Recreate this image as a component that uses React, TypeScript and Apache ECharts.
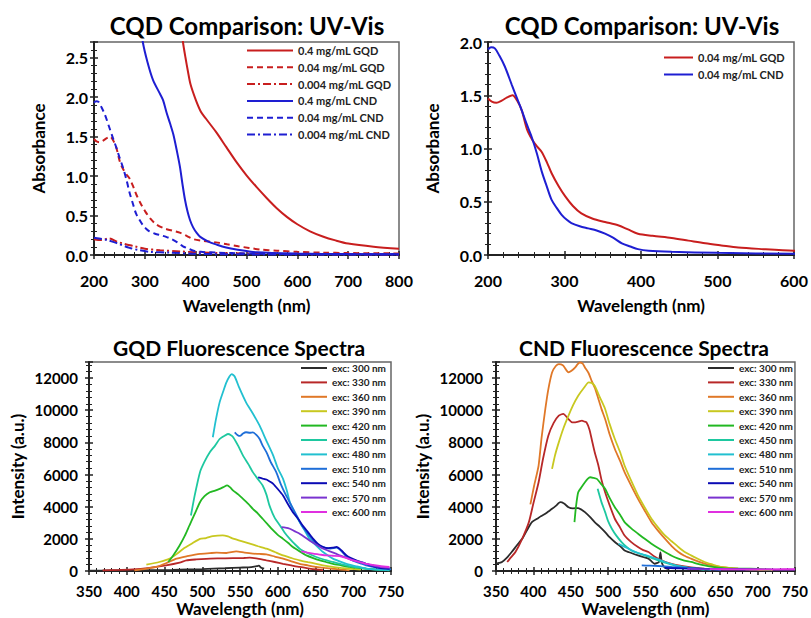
import React, { useEffect, useRef } from "react";
import * as echarts from "echarts";

// ---------- UV-Vis data (wavelength nm, absorbance) ----------
const gqd_04: number[][] = [[370,3.0],[375,2.7],[380,2.5],[385,2.32],[390,2.16],[400,1.97],[410,1.82],[420,1.73],[440,1.56],[460,1.37],[480,1.18],[500,1.01],[520,0.86],[540,0.72],[560,0.59],[580,0.48],[600,0.39],[625,0.30],[650,0.235],[675,0.185],[700,0.145],[750,0.105],[800,0.08]];
const gqd_004: number[][] = [[200,1.47],[205,1.44],[211,1.43],[218,1.45],[225,1.48],[232,1.50],[238,1.45],[244,1.36],[251,1.18],[258,1.08],[264,1.02],[270,0.97],[277,0.87],[283,0.77],[292,0.65],[301,0.55],[311,0.46],[322,0.39],[337,0.34],[353,0.31],[370,0.28],[383,0.24],[396,0.20],[415,0.18],[440,0.16],[462,0.135],[484,0.11],[505,0.09],[527,0.07],[560,0.055],[600,0.04],[650,0.03],[700,0.025],[800,0.02]];
const gqd_0004: number[][] = [[200,0.20],[208,0.19],[215,0.19],[230,0.21],[245,0.17],[260,0.14],[280,0.11],[300,0.08],[330,0.06],[370,0.045],[400,0.035],[450,0.025],[500,0.02],[600,0.012],[800,0.006]];
const cnd_04: number[][] = [[290,3.0],[296,2.7],[305,2.45],[316,2.22],[330,2.04],[336,1.96],[343,1.80],[350,1.66],[356,1.53],[363,1.32],[369,1.12],[374,0.9],[379,0.70],[384,0.55],[389,0.44],[395,0.35],[402,0.28],[409,0.23],[425,0.17],[442,0.13],[460,0.095],[480,0.07],[520,0.035],[600,0.018],[700,0.012],[800,0.01]];
const cnd_004: number[][] = [[200,1.93],[204,1.95],[209,1.94],[215,1.87],[222,1.77],[231,1.60],[238,1.47],[244,1.36],[250,1.24],[257,1.11],[264,0.95],[270,0.79],[277,0.64],[283,0.52],[290,0.44],[296,0.38],[303,0.33],[309,0.30],[320,0.27],[331,0.25],[342,0.23],[353,0.20],[364,0.16],[375,0.11],[386,0.08],[396,0.055],[410,0.04],[440,0.03],[500,0.02],[600,0.012],[800,0.008]];
const cnd_0004: number[][] = [[200,0.22],[210,0.21],[225,0.19],[245,0.15],[270,0.09],[290,0.06],[310,0.04],[350,0.03],[400,0.015],[500,0.008],[800,0.005]];

// ---------- GQD fluorescence (emission nm, intensity) ----------
const g300: number[][] = [[350,20],[380,30],[420,50],[460,70],[500,120],[530,170],[550,210],[565,240],[572,300],[575,330],[578,200],[582,150]];
const g330: number[][] = [[368,40],[390,70],[408,100],[430,200],[452,350],[470,520],[479,660],[492,720],[505,760],[520,780],[541,800],[555,810],[563,830],[575,760],[585,660],[596,560],[607,450],[618,350],[629,250],[640,170],[651,100],[660,60]];
const g360: number[][] = [[410,40],[425,130],[439,250],[452,480],[466,770],[480,920],[497,1070],[510,1110],[519,1140],[532,1120],[545,1220],[556,1140],[567,1080],[576,1060],[585,1030],[596,900],[607,770],[618,600],[629,450],[640,350],[651,250],[662,190],[673,140],[684,90],[695,40]];
const g390: number[][] = [[426,390],[443,560],[457,770],[466,1050],[475,1390],[486,1700],[497,2000],[505,2050],[514,2170],[527,2220],[534,2150],[541,2010],[552,1860],[563,1700],[574,1540],[585,1390],[596,1180],[607,970],[618,810],[629,660],[640,550],[651,450],[662,340],[673,250],[684,190],[695,140],[710,90]];
const g420: number[][] = [[455,560],[462,1000],[470,1590],[477,2200],[483,2830],[490,3550],[497,4280],[503,4650],[510,4900],[517,5000],[523,5110],[528,5220],[533,5320],[537,5200],[541,5000],[548,4750],[554,4490],[561,4180],[567,3870],[574,3560],[580,3250],[587,2880],[594,2520],[600,2250],[607,2000],[614,1740],[620,1490],[629,1220],[638,970],[647,800],[656,660],[664,560],[673,450],[684,350],[695,250],[706,190],[717,140],[732,90],[748,40]];
const g450: number[][] = [[485,3450],[490,4700],[497,6150],[503,6800],[510,7390],[517,7800],[523,8210],[529,8400],[534,8520],[538,8450],[541,8320],[548,7750],[554,7180],[561,6650],[567,6150],[574,5700],[580,5320],[585,4750],[589,4080],[596,3300],[603,2830],[609,2400],[616,2000],[622,1700],[629,1390],[640,1100],[651,870],[662,700],[673,560],[684,430],[695,310],[706,220],[717,150],[732,90],[748,40]];
const g480: number[][] = [[514,8320],[518,9400],[523,10490],[528,11200],[532,11730],[536,12100],[539,12250],[543,12100],[549,11400],[558,10490],[567,9800],[576,9040],[585,8100],[594,7180],[600,6400],[607,5730],[612,5000],[616,4280],[622,3650],[629,3040],[636,2500],[642,2000],[651,1580],[660,1180],[667,950],[673,770],[682,600],[691,450],[704,290],[717,150],[732,90],[748,50]];
const g510: number[][] = [[543,8630],[547,8450],[550,8400],[554,8550],[558,8630],[563,8600],[567,8620],[572,8450],[576,8210],[580,7800],[585,7390],[591,6750],[598,6150],[604,5400],[611,4700],[618,4080],[625,3460],[631,2900],[638,2420],[645,2000],[651,1700],[657,1550],[664,1420],[670,1400],[678,1450],[684,1250],[691,900],[697,700],[704,560],[711,450],[717,350],[728,240],[739,150],[750,100]];
const g540: number[][] = [[574,5830],[580,5750],[585,5690],[590,5550],[594,5420],[600,5100],[607,4700],[613,4200],[620,3660],[627,3250],[633,2830],[640,2420],[647,2000],[653,1700],[660,1490],[667,1420],[673,1450],[678,1500],[684,1300],[691,970],[697,800],[704,660],[711,550],[717,450],[726,300],[735,190],[748,140]];
const g570: number[][] = [[605,2730],[610,2700],[616,2630],[622,2480],[629,2320],[636,2100],[642,1900],[649,1700],[656,1490],[662,1350],[669,1220],[676,1100],[682,970],[691,820],[700,660],[708,560],[717,450],[726,340],[735,250],[748,190]];
const g600: number[][] = [[631,1220],[639,1150],[647,1080],[656,1020],[664,970],[673,950],[682,930],[691,800],[700,660],[708,560],[717,450],[726,380],[735,310],[748,250]];

// ---------- CND fluorescence ----------
const c300: number[][] = [[350,450],[354,500],[358,560],[364,800],[371,1180],[378,1600],[385,2000],[391,2500],[398,3040],[405,3250],[410,3400],[416,3560],[420,3700],[425,3870],[430,4050],[436,4280],[441,4200],[447,3970],[453,3900],[460,3910],[465,3800],[469,3660],[476,3350],[482,3040],[489,2750],[496,2420],[502,2100],[509,1800],[516,1550],[522,1280],[531,1120],[540,970],[547,870],[554,770],[558,600],[562,450],[566,500],[568,560],[570,1150],[572,500],[576,200],[582,100]];
const c330: number[][] = [[365,560],[370,850],[376,1180],[385,2000],[394,3040],[400,4200],[407,5520],[413,7000],[420,8420],[427,9200],[434,9660],[440,9770],[447,9450],[452,9250],[456,9250],[461,9300],[465,9350],[468,9300],[471,9250],[475,8800],[478,8210],[482,7400],[487,6560],[491,5700],[496,4900],[502,4100],[509,3250],[516,2700],[522,2210],[531,1800],[540,1490],[547,1300],[554,1180],[562,900],[571,660],[578,540],[585,450],[596,340],[607,250],[618,190],[629,140],[640,100]];
const c360: number[][] = [[396,4140],[401,5300],[407,6560],[411,8300],[416,10080],[420,11300],[425,12350],[430,12750],[434,12870],[437,12850],[440,12770],[444,12500],[447,12350],[451,12450],[456,12660],[459,12850],[462,12970],[466,12900],[469,12660],[474,12300],[478,11830],[483,11300],[487,10700],[491,10100],[496,9450],[502,8500],[509,7590],[516,6850],[522,6150],[531,5300],[540,4490],[549,3750],[558,3040],[567,2500],[576,2010],[585,1550],[594,1180],[602,950],[611,770],[620,600],[629,460],[640,340],[651,250],[662,190],[674,140],[685,110],[696,80],[720,50]];
const c390: number[][] = [[425,6350],[429,7200],[434,8000],[440,8850],[447,9660],[453,10300],[460,10900],[467,11350],[474,11730],[478,11700],[482,11520],[489,10800],[496,10080],[502,9150],[509,8210],[516,7400],[522,6560],[531,5600],[540,4700],[549,3950],[558,3250],[567,2700],[576,2210],[585,1850],[594,1490],[602,1200],[611,970],[620,760],[629,560],[640,400],[651,250],[662,190],[674,140],[685,110],[696,80],[720,50]];
const c420: number[][] = [[455,3040],[457,4000],[460,4900],[465,5250],[469,5520],[473,5750],[476,5830],[480,5800],[485,5730],[490,5450],[496,5110],[502,4550],[509,3970],[516,3500],[522,3040],[531,2650],[540,2320],[549,2000],[558,1700],[567,1430],[576,1180],[585,950],[594,770],[602,650],[611,560],[620,450],[629,350],[640,250],[651,190],[662,150],[674,140],[690,140],[700,130],[718,80]];
const c450: number[][] = [[486,5110],[491,4300],[496,3660],[500,3100],[505,2630],[511,2200],[518,1800],[524,1530],[531,1280],[540,1120],[549,970],[558,820],[567,660],[576,520],[585,390],[596,280],[607,190],[618,130],[629,80]];
const c480: number[][] = [[514,1700],[520,1550],[527,1390],[533,1250],[540,1120],[549,1000],[558,870],[567,720],[576,560],[585,430],[594,310],[605,220],[616,150],[627,110],[638,80]];
const c510: number[][] = [[545,350],[556,330],[567,310],[576,280],[585,250],[596,220],[607,190],[618,160],[629,120],[640,100],[651,70]];
const c540: number[][] = [[576,190],[590,170],[605,150],[620,140],[640,130],[660,120],[680,110],[700,100]];
const c570: number[][] = [[606,130],[625,120],[645,110],[665,110],[685,100],[705,100],[725,90],[750,90]];
const c600: number[][] = [[636,120],[655,110],[675,100],[695,100],[715,100],[735,110],[750,110]];

// ---------- labels ----------
const titles = ["CQD Comparison: UV-Vis", "CQD Comparison: UV-Vis", "GQD Fluorescence Spectra", "CND Fluorescence Spectra"];
const uvNames = ["0.4 mg/mL GQD", "0.04 mg/mL GQD", "0.004 mg/mL GQD", "0.4 mg/mL CND", "0.04 mg/mL CND", "0.004 mg/mL CND"];
const excNames = ["exc: 300 nm", "exc: 330 nm", "exc: 360 nm", "exc: 390 nm", "exc: 420 nm", "exc: 450 nm", "exc: 480 nm", "exc: 510 nm", "exc: 540 nm", "exc: 570 nm", "exc: 600 nm"];
const excColors = ["#2b2b2b", "#b82828", "#e07828", "#c8c820", "#22b822", "#1ec8a0", "#22c0d0", "#1e6ed8", "#0a0ab4", "#7a33d0", "#e030e0"];
const gqdSpectra = [g300, g330, g360, g390, g420, g450, g480, g510, g540, g570, g600];
const cndSpectra = [c300, c330, c360, c390, c420, c450, c480, c510, c540, c570, c600];

const RED = "#c81e1e";
const BLUE = "#1e1ed2";
const FONT = "Lato, 'Open Sans', sans-serif";

const grids = [
  { left: 94, top: 42, width: 305, height: 213 },
  { left: 488, top: 42, width: 306, height: 213 },
  { left: 89, top: 362, width: 302, height: 209 },
  { left: 496, top: 362, width: 300, height: 209 },
];

function buildOption() {
  const axisCfg = [
    { x: [200, 800, 100], y: [0, 2.7, 0.5], xm: 17, ym: 6, xg: 42, yg: 47, yname: "Absorbance", fs: 16 },
    { x: [200, 600, 100], y: [0, 2.0, 0.5], xm: 17, ym: 6, xg: 42, yg: 47, yname: "Absorbance", fs: 16 },
    { x: [350, 750, 50], y: [0, 13000, 2000], xm: 12, ym: 11, xg: 29, yg: 63, yname: "Intensity (a.u.)", fs: 15 },
    { x: [350, 750, 50], y: [0, 13000, 2000], xm: 12, ym: 13, xg: 29, yg: 65, yname: "Intensity (a.u.)", fs: 15 },
  ];
  const xAxis: any[] = [];
  const yAxis: any[] = [];
  axisCfg.forEach((c, i) => {
    const yFmt = (v: number) => (i < 2 ? v.toFixed(1) : String(v));
    const nameStyle = { fontFamily: FONT, fontWeight: "bold", fontSize: 17, color: "#000" };
    xAxis.push({
      type: "value", gridIndex: i, position: "bottom", min: c.x[0], max: c.x[1], interval: c.x[2],
      axisLine: { show: true, onZero: false, lineStyle: { color: "#222", width: 2 } },
      axisTick: { show: true, inside: false, length: 4, lineStyle: { color: "#222", width: 1.5 } },
      minorTick: { show: true, splitNumber: 5, length: 3, lineStyle: { color: "#222", width: 1 } },
      axisLabel: { margin: c.xm, fontFamily: FONT, fontWeight: "bold", fontSize: c.fs, color: "#000" },
      splitLine: { show: false },
      name: "Wavelength (nm)", nameLocation: "middle", nameGap: c.xg, nameTextStyle: nameStyle,
    });
    xAxis.push({
      type: "value", gridIndex: i, position: "bottom", min: c.x[0], max: c.x[1], interval: c.x[2],
      axisLine: { show: false, onZero: false },
      axisTick: { show: true, inside: true, length: 4, lineStyle: { color: "#222", width: 1.5 } },
      minorTick: { show: true, splitNumber: 5, length: 3, lineStyle: { color: "#222", width: 1 } },
      axisLabel: { show: false }, splitLine: { show: false },
    });
    yAxis.push({
      type: "value", gridIndex: i, position: "left", min: c.y[0], max: c.y[1], interval: c.y[2],
      axisLine: { show: true, onZero: false, lineStyle: { color: "#222", width: 2 } },
      axisTick: { show: true, inside: false, length: 4, lineStyle: { color: "#222", width: 1.5 } },
      minorTick: { show: true, splitNumber: 5, length: 3, lineStyle: { color: "#222", width: 1 } },
      axisLabel: { margin: c.ym, fontFamily: FONT, fontWeight: "bold", fontSize: c.fs, color: "#000", showMaxLabel: i === 1, formatter: yFmt },
      splitLine: { show: false },
      name: c.yname, nameLocation: "middle", nameGap: c.yg, nameTextStyle: nameStyle,
    });
    yAxis.push({
      type: "value", gridIndex: i, position: "left", min: c.y[0], max: c.y[1], interval: c.y[2],
      axisLine: { show: false, onZero: false },
      axisTick: { show: true, inside: true, length: 4, lineStyle: { color: "#222", width: 1.5 } },
      minorTick: { show: true, splitNumber: 5, length: 3, lineStyle: { color: "#222", width: 1 } },
      axisLabel: { show: false }, splitLine: { show: false },
    });
  });

  const series: any[] = [];
  const line = (id: string, name: string, data: number[][], color: string, g: number, type: any, width = 2, smooth: number = 0.3) => {
    series.push({
      type: "line", name: id + "|" + name, data, xAxisIndex: 2 * g, yAxisIndex: 2 * g,
      symbol: "none", smooth, clip: true,
      lineStyle: { color, width, type }, itemStyle: { color },
    });
  };
  const dashed = [6, 4];
  const dashDot = [8, 3, 2, 3];
  // UV-Vis panel 1
  line("a", uvNames[0], gqd_04, RED, 0, "solid");
  line("a", uvNames[1], gqd_004, RED, 0, dashed);
  line("a", uvNames[2], gqd_0004, RED, 0, dashDot);
  line("a", uvNames[3], cnd_04, BLUE, 0, "solid");
  line("a", uvNames[4], cnd_004, BLUE, 0, dashed);
  line("a", uvNames[5], cnd_0004, BLUE, 0, dashDot);
  // UV-Vis panel 2
  line("b", uvNames[1], gqd_004, RED, 1, "solid");
  line("b", uvNames[4], cnd_004, BLUE, 1, "solid");
  // fluorescence
  excNames.forEach((n, k) => line("c", n, gqdSpectra[k], excColors[k], 2, "solid", 1.8, 0.2));
  excNames.forEach((n, k) => line("d", n, cndSpectra[k], excColors[k], 3, "solid", 1.8, 0.2));

  const legText = (fs: number) => ({ fontFamily: FONT, fontWeight: "bold", fontSize: fs, color: "#222" });
  const fmt = (name: string) => name.split("|")[1];
  const hideSym = { opacity: 0, borderWidth: 0 };
  const legend = [
    { left: 246, top: 45, orient: "vertical", itemWidth: 46, itemHeight: 10, itemGap: 5.8, padding: 0,
      data: uvNames.map((n) => "a|" + n), formatter: fmt, textStyle: legText(11), selectedMode: false, itemStyle: hideSym },
    { left: 663, top: 52, orient: "vertical", itemWidth: 29, itemHeight: 10, itemGap: 6, padding: 0,
      data: [uvNames[1], uvNames[4]].map((n) => "b|" + n), formatter: fmt, textStyle: legText(11), selectedMode: false, itemStyle: hideSym },
    { left: 300, top: 363, orient: "vertical", itemWidth: 26, itemHeight: 10, itemGap: 4.4, padding: 0,
      data: excNames.map((n) => "c|" + n), formatter: fmt, textStyle: legText(10), selectedMode: false, itemStyle: hideSym },
    { left: 707, top: 363, orient: "vertical", itemWidth: 26, itemHeight: 10, itemGap: 4.4, padding: 0,
      data: excNames.map((n) => "d|" + n), formatter: fmt, textStyle: legText(10), selectedMode: false, itemStyle: hideSym },
  ];

  const titlePos = [[247, 25, 24], [642, 25, 24], [239, 347, 21], [644, 347, 21]];
  const graphic = titles.map((t, i) => ({
    type: "text", x: titlePos[i][0], y: titlePos[i][1],
    style: { text: t, fontFamily: FONT, fontWeight: "bold", fontSize: titlePos[i][2], fill: "#000", align: "center", verticalAlign: "middle" },
  }));

  return {
    animation: false,
    backgroundColor: "#fff",
    grid: grids.map((g) => ({ ...g, show: true, borderColor: "#666", borderWidth: 1.5, backgroundColor: "transparent" })),
    xAxis, yAxis, series, legend, graphic,
  };
}

export default function App() {
  const ref = useRef<HTMLDivElement>(null);
  useEffect(() => {
    if (!ref.current) return;
    const chart = echarts.init(ref.current, undefined, { renderer: "svg" });
    chart.setOption(buildOption() as any);
    return () => chart.dispose();
  }, []);
  return <div ref={ref} style={{ position: "fixed", left: 0, top: 0, width: 811, height: 618, background: "#fff" }} />;
}
